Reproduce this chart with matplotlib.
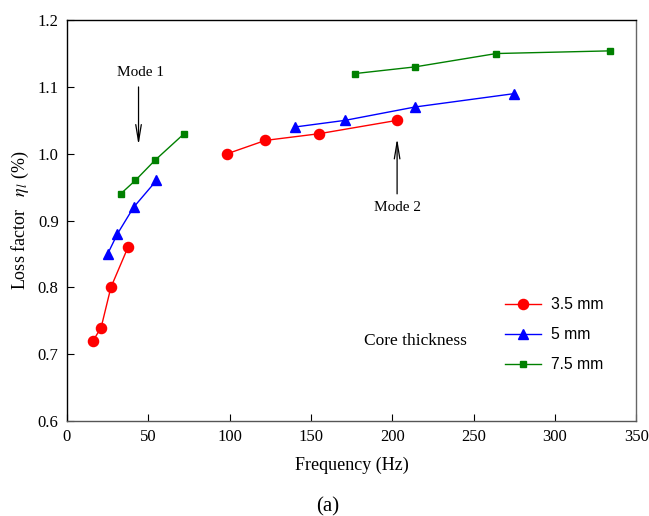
import matplotlib
matplotlib.use("Agg")
import matplotlib.pyplot as plt

plt.rcParams["mathtext.fontset"] = "stix"

freq_35 = [16, 21, 27, 37.5, 98.5, 122, 155, 203]
eta_35 = [0.72, 0.74, 0.80, 0.86, 1.00, 1.02, 1.03, 1.05]
freq_5 = [25, 31, 41, 55, 140, 171, 214, 275]
eta_5 = [0.85, 0.88, 0.92, 0.96, 1.04, 1.05, 1.07, 1.09]
freq_75 = [33, 42, 54, 72, 177, 214, 264, 334]
eta_75 = [0.94, 0.96, 0.99, 1.03, 1.12, 1.13, 1.15, 1.154]
labels = ["3.5 mm", "5 mm", "7.5 mm"]
xticks = [0, 50, 100, 150, 200, 250, 300, 350]
yticks = [0.6, 0.7, 0.8, 0.9, 1.0, 1.1, 1.2]

serif = "Liberation Serif"
sans = "Liberation Sans"

fig = plt.figure(figsize=(6.49, 5.16), dpi=100)
ax = fig.add_axes([0.1032, 0.184, 0.877, 0.777])

def split_plot(x, y, **kw):
    # two groups (mode 1 and mode 2) drawn as separate line segments
    l1, = ax.plot(x[:4], y[:4], **kw)
    kw.pop("label", None)
    ax.plot(x[4:], y[4:], **kw)
    return l1

split_plot(freq_35, eta_35, color="red", marker="o", markersize=7.3, lw=1, label=labels[0])
split_plot(freq_5, eta_5, color="blue", marker="^", markersize=7, lw=1, label=labels[1])
split_plot(freq_75, eta_75, color="green", marker="s", markersize=5, lw=1, label=labels[2])

ax.set_xlim(0, 350)
ax.set_ylim(0.6, 1.2)
ax.set_xticks(xticks)
ax.set_yticks(yticks)
ax.set_xticklabels([str(t) for t in xticks], fontfamily=serif, fontsize=12)
ax.set_yticklabels([f"{t:.1f}" for t in yticks], fontfamily=serif, fontsize=12)
ax.tick_params(direction="in", length=5, top=False, right=False, pad=6)
for s in ax.spines.values():
    s.set_linewidth(1.0)
ax.spines["right"].set_color("#666666")
ax.spines["bottom"].set_color("#555555")

ax.set_xlabel("Frequency (Hz)", fontfamily=serif, fontsize=13, labelpad=8)
ax.set_ylabel(r"Loss factor   $\eta_l$ (%)", fontfamily=serif, fontsize=13, labelpad=5)

arrow = dict(arrowstyle="->,head_length=1.2,head_width=0.2", color="black", lw=0.9,
             shrinkA=0, shrinkB=0)
ax.annotate("", xy=(44, 1.013), xytext=(44, 1.1), arrowprops=arrow)
ax.text(45, 1.122, "Mode 1", fontfamily=serif, fontsize=11, ha="center", va="center")
ax.annotate("", xy=(203, 1.023), xytext=(203, 0.94), arrowprops=arrow)
ax.text(203.5, 0.92, "Mode 2", fontfamily=serif, fontsize=11, ha="center", va="center")
ax.text(214, 0.72, "Core thickness", fontfamily=serif, fontsize=12.5, ha="center", va="center")

leg = ax.legend(loc="center left", bbox_to_anchor=(0.745, 0.215), frameon=False,
                prop={"family": sans, "size": 11.3}, handlelength=2.3, labelspacing=0.95,
                handletextpad=0.6)

fig.text(0.505, 0.0, "(a)", fontfamily=serif, fontsize=15, ha="center", va="bottom")

fig.savefig("out.png", dpi=100)
